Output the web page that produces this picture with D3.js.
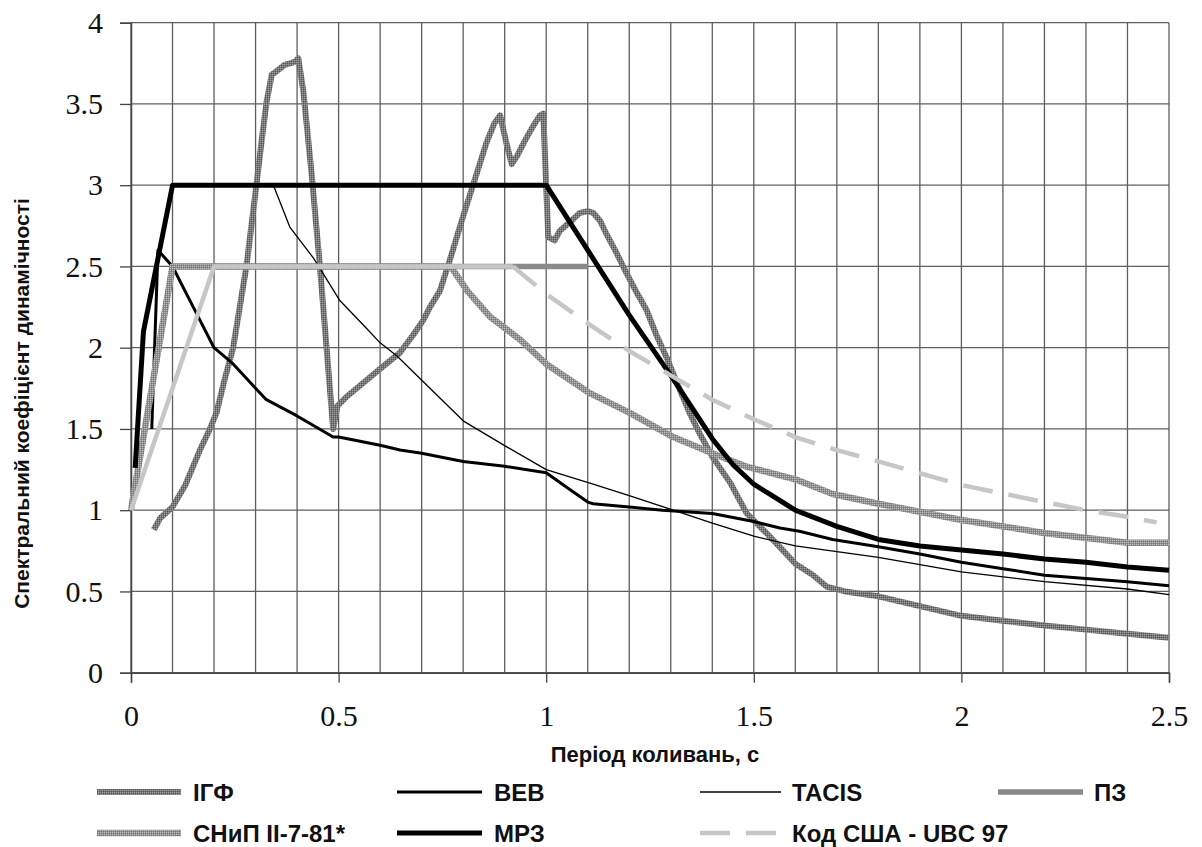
<!DOCTYPE html>
<html>
<head>
<meta charset="utf-8">
<script src="https://cdn.jsdelivr.net/npm/d3@7"></script>
<style>
  html, body { margin: 0; padding: 0; background: #ffffff; }
  svg { display: block; }
</style>
</head>
<body>
<svg id="chart" width="1202" height="847"></svg>
<script>
// Spectral dynamic-amplification curves, period T (s) vs coefficient β
const igf = [
  [0.055,0.88],[0.07,0.95],[0.10,1.02],[0.13,1.15],[0.166,1.37],[0.19,1.50],[0.206,1.60],
  [0.225,1.80],[0.246,2.00],[0.262,2.25],[0.278,2.50],[0.29,2.75],[0.302,3.00],[0.315,3.28],
  [0.327,3.52],[0.339,3.68],[0.35,3.70],[0.36,3.72],[0.37,3.74],[0.383,3.75],[0.395,3.76],
  [0.403,3.78],[0.415,3.58],[0.435,3.07],[0.455,2.50],[0.471,2.00],[0.487,1.50],[0.497,1.64],
  [0.52,1.70],[0.567,1.80],[0.60,1.87],[0.648,1.97],[0.68,2.08],[0.704,2.17],[0.72,2.25],
  [0.744,2.35],[0.768,2.54],[0.80,2.81],[0.825,3.01],[0.856,3.26],[0.875,3.38],[0.889,3.43],
  [0.905,3.25],[0.917,3.13],[0.93,3.18],[0.95,3.28],[0.97,3.37],[0.985,3.43],[0.993,3.44],
  [1.005,2.68],[1.02,2.66],[1.033,2.72],[1.06,2.78],[1.081,2.83],[1.10,2.84],[1.113,2.83],
  [1.13,2.78],[1.145,2.70],[1.17,2.58],[1.193,2.46],[1.22,2.33],[1.242,2.23],[1.265,2.08],
  [1.29,1.94],[1.322,1.74],[1.345,1.60],[1.37,1.47],[1.40,1.33],[1.443,1.17],[1.483,0.98],
  [1.53,0.86],[1.56,0.78],[1.60,0.67],[1.643,0.60],[1.675,0.53],[1.72,0.50],[1.80,0.47],
  [1.90,0.41],[2.00,0.35],[2.10,0.32],[2.20,0.29],[2.30,0.265],[2.40,0.24],[2.50,0.215]
];
const veb = [
  [0.05,1.50],[0.065,2.60],[0.10,2.50],[0.15,2.25],[0.20,2.00],[0.246,1.90],[0.30,1.75],
  [0.326,1.68],[0.40,1.58],[0.487,1.45],[0.50,1.45],[0.60,1.40],[0.648,1.37],[0.70,1.35],
  [0.80,1.30],[0.90,1.27],[1.00,1.23],[1.05,1.14],[1.10,1.05],[1.113,1.04],[1.20,1.02],
  [1.28,1.00],[1.40,0.98],[1.50,0.93],[1.563,0.89],[1.61,0.87],[1.69,0.82],[1.80,0.775],
  [1.90,0.73],[2.00,0.68],[2.10,0.64],[2.20,0.60],[2.30,0.58],[2.40,0.56],[2.50,0.535]
];
const tacis = [
  [0.10,3.00],[0.343,3.00],[0.383,2.74],[0.44,2.55],[0.503,2.29],[0.567,2.12],[0.60,2.03],
  [0.64,1.95],[0.704,1.79],[0.80,1.55],[0.905,1.39],[1.00,1.25],[1.113,1.16],[1.20,1.09],
  [1.306,1.00],[1.40,0.92],[1.50,0.84],[1.60,0.78],[1.80,0.71],[2.00,0.62],[2.20,0.56],
  [2.40,0.515],[2.50,0.48]
];
const pz = [[0.00,1.00],[0.10,2.50],[1.10,2.50]];
const snip = [
  [0.00,1.00],[0.10,2.50],[0.77,2.50],[0.81,2.35],[0.865,2.19],[0.937,2.05],[1.00,1.90],
  [1.105,1.72],[1.20,1.60],[1.306,1.45],[1.40,1.35],[1.48,1.27],[1.60,1.19],[1.69,1.10],
  [1.80,1.04],[2.00,0.94],[2.20,0.86],[2.40,0.80],[2.50,0.80]
];
const mrz = [
  [0.01,1.26],[0.03,2.10],[0.10,3.00],[1.00,3.00],[1.10,2.60],[1.20,2.20],[1.30,1.83],
  [1.40,1.44],[1.45,1.28],[1.50,1.16],[1.55,1.08],[1.60,1.00],[1.70,0.90],[1.80,0.82],
  [1.90,0.78],[2.00,0.755],[2.10,0.73],[2.20,0.70],[2.30,0.68],[2.40,0.65],[2.50,0.63]
];
// UBC 97: rising branch and plateau, then the 1/T decay branch
const ubcPlateau = [[0.00,1.00],[0.20,2.50],[0.92,2.50]];
const ubcDecay = [
  [0.92,2.50],[1.00,2.33],[1.10,2.15],[1.20,1.98],[1.30,1.83],[1.40,1.68],[1.50,1.56],
  [1.60,1.45],[1.70,1.37],[1.80,1.30],[2.00,1.155],[2.20,1.05],[2.30,1.00],[2.40,0.96],[2.47,0.925]
];

const xTicks = [0, 0.5, 1, 1.5, 2, 2.5];
const yTicks = [0, 0.5, 1, 1.5, 2, 2.5, 3, 3.5, 4];
const xGrid = d3.range(0, 26).map(i => i / 10);

const legendNames = ["ІГФ", "ВЕВ", "TACIS", "ПЗ", "СНиП II-7-81*", "МРЗ", "Код США - UBC 97"];

const svg = d3.select("#chart");
const defs = svg.append("defs");

// dotted texture used for the two "patterned" gray lines
function texture(id, base, light, dark) {
  const p = defs.append("pattern").attr("id", id)
    .attr("width", 2).attr("height", 2).attr("patternUnits", "userSpaceOnUse");
  p.append("rect").attr("width", 2).attr("height", 2).attr("fill", base);
  p.append("rect").attr("width", 1).attr("height", 1).attr("fill", light);
  p.append("rect").attr("x", 1).attr("y", 1).attr("width", 1).attr("height", 1).attr("fill", dark);
}
texture("texIGF", "#747474", "#a0a0a0", "#5a5a5a");
texture("texSNIP", "#8e8e8e", "#bdbdbd", "#7a7a7a");

const styles = {
  "ІГФ":   { stroke: "url(#texIGF)", width: 6 },
  "ВЕВ":   { stroke: "#000", width: 3 },
  "TACIS": { stroke: "#000", width: 1.3 },
  "ПЗ":    { stroke: "#8a8a8a", width: 5.5 },
  "СНиП II-7-81*": { stroke: "url(#texSNIP)", width: 6.5 },
  "МРЗ":   { stroke: "#000", width: 5 },
  "Код США - UBC 97": { stroke: "#c6c6c6", width: 4.5, dash: "30,16" }
};

const x = d3.scaleLinear().domain([0, 2.5]).range([131, 1169]);
const y = d3.scaleLinear().domain([0, 4]).range([672.7, 22.7]);

// grid
const grid = svg.append("g");
grid.selectAll("line.v").data(xGrid).join("line")
  .attr("x1", d => x(d)).attr("x2", d => x(d))
  .attr("y1", y(0)).attr("y2", y(4))
  .attr("stroke", "#5e5e5e").attr("stroke-width", 1.3);
grid.selectAll("line.h").data(yTicks).join("line")
  .attr("x1", x(0)).attr("x2", x(2.5))
  .attr("y1", d => y(d)).attr("y2", d => y(d))
  .attr("stroke", "#5e5e5e").attr("stroke-width", 1.3);

// axes
const yAxis = svg.append("g").attr("transform", `translate(${x(0)},0)`)
  .call(d3.axisLeft(y).tickValues(yTicks).tickSize(11).tickPadding(17)
    .tickFormat(d => String(d)));
const xAxis = svg.append("g").attr("transform", `translate(0,${y(0)})`)
  .call(d3.axisBottom(x).tickValues(xTicks).tickSize(10).tickPadding(22)
    .tickFormat(d => String(d)));
[yAxis, xAxis].forEach(g => {
  g.select(".domain").attr("stroke", "#444").attr("stroke-width", 1.5);
  g.selectAll(".tick line").attr("stroke", "#444").attr("stroke-width", 1.3);
  g.selectAll(".tick text").attr("font-family", "'Liberation Serif', 'Times New Roman', serif")
    .attr("font-size", 30).attr("fill", "#111");
});
xAxis.selectAll(".tick text").attr("dy", "0.71em");

// curves
const line = d3.line().x(d => x(d[0])).y(d => y(d[1]));
const plot = svg.append("g").attr("fill", "none").attr("stroke-linejoin", "round");
function draw(data, name, dashed) {
  const s = styles[name];
  plot.append("path").datum(data).attr("d", line)
    .attr("stroke", s.stroke).attr("stroke-width", s.width)
    .attr("stroke-dasharray", dashed ? s.dash : null);
}
draw(igf, "ІГФ");
draw(veb, "ВЕВ");
draw(tacis, "TACIS");
draw(pz, "ПЗ");
draw(snip, "СНиП II-7-81*");
draw(mrz, "МРЗ");
draw(ubcPlateau, "Код США - UBC 97");
draw(ubcDecay, "Код США - UBC 97", true);

// axis titles
const sans = "'Liberation Sans', Arial, sans-serif";
svg.append("text").attr("x", 655).attr("y", 762)
  .attr("text-anchor", "middle").attr("font-family", sans).attr("font-weight", "bold")
  .attr("font-size", 22).attr("fill", "#111").text("Період коливань, с");
svg.append("text").attr("transform", "translate(28.5,403.5) rotate(-90)")
  .attr("text-anchor", "middle").attr("font-family", sans).attr("font-weight", "bold")
  .attr("font-size", 21).attr("fill", "#111").text("Спектральний коефіцієнт динамічності");

// legend: four columns, two rows
const colLine = [[97, 181], [397, 482], [700, 781], [998, 1083]];
const colText = [193, 494, 792, 1094];
const rowY = [792, 833];
const leg = svg.append("g");
legendNames.forEach((name, i) => {
  const row = Math.floor(i / 4), col = i % 4;
  const s = styles[name];
  leg.append("line")
    .attr("x1", colLine[col][0]).attr("x2", colLine[col][1])
    .attr("y1", rowY[row]).attr("y2", rowY[row])
    .attr("stroke", s.stroke).attr("stroke-width", s.width)
    .attr("stroke-dasharray", s.dash || null);
  leg.append("text").attr("x", colText[col]).attr("y", rowY[row])
    .attr("dy", "0.36em").attr("font-family", sans).attr("font-weight", "bold")
    .attr("font-size", 24).attr("fill", "#111").text(name);
});
</script>
</body>
</html>
